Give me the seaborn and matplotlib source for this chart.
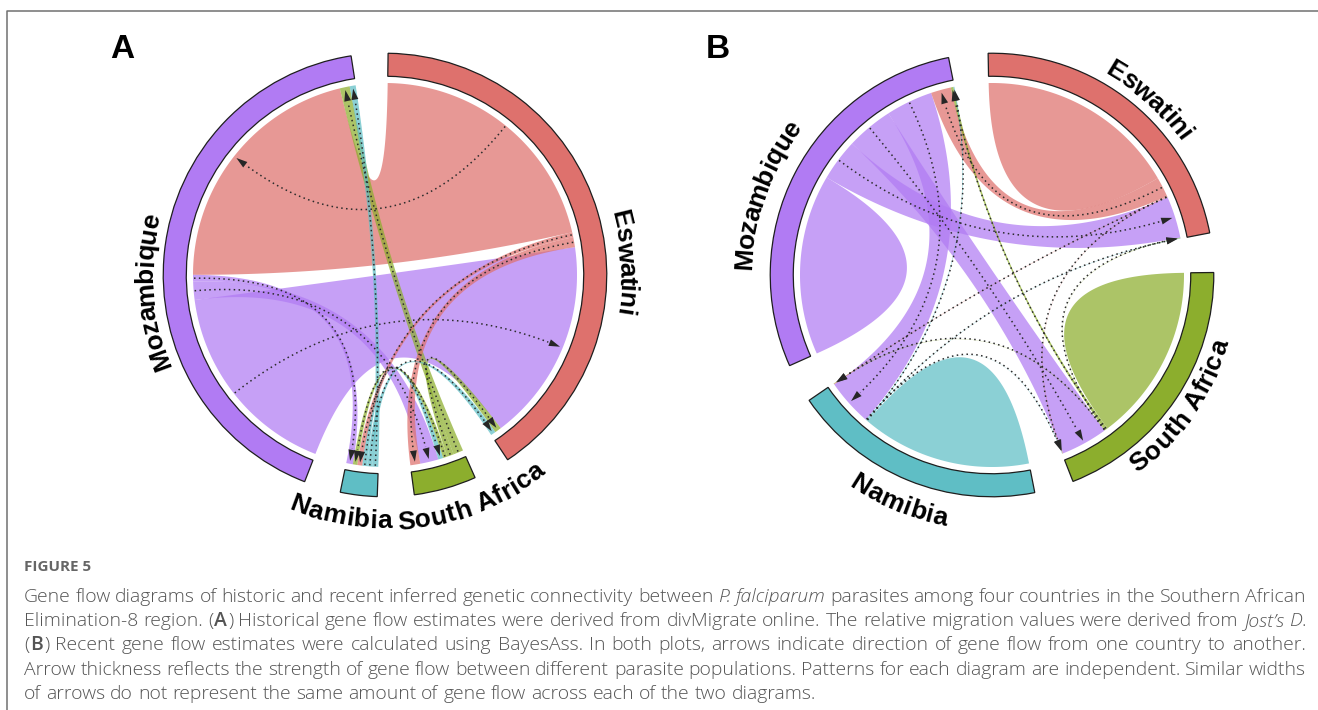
import re

import matplotlib.pyplot as plt
import numpy as np
import seaborn as sns
from matplotlib import font_manager
from matplotlib.font_manager import FontProperties
from matplotlib.patches import Polygon, Wedge

sns.set_theme(style='white')
plt.rcParams['font.family'] = ['Liberation Sans', 'DejaVu Sans']

W, H = 1318, 710
UNIT = 192                  # px for radius 1, where the links end
R_IN, R_OUT = 1.035, 1.155  # sector track

countries = ['Eswatini', 'South Africa', 'Namibia', 'Mozambique']  # clockwise from the top
ring_colours = ['#de716d', '#8cae2d', '#5fbec5', '#b17bf3']

# gene flow, rows = from, columns = to (order of `countries`)
# (A) divMigrate, relative migration from Jost's D
historic_flow = [
    [0.0, 3.0, 1.5, 76.0],
    [2.0, 0.0, 1.3, 3.0],
    [1.5, 1.5, 0.0, 1.8],
    [61.0, 5.5, 2.0, 0.0],
]
# (B) BayesAss
recent_flow = [
    [30.0, 0.15, 0.15, 6.0],
    [0.15, 26.5, 0.15, 0.8],
    [0.15, 0.15, 25.5, 0.3],
    [12.5, 14.0, 14.0, 27.0],
]

# order of the link ends inside each sector, clockwise: outgoing first, then incoming
historic_out = {
    'Eswatini': ['Mozambique', 'Namibia', 'South Africa'],
    'South Africa': ['Mozambique', 'Eswatini', 'Namibia'],
    'Namibia': ['Mozambique', 'Eswatini', 'South Africa'],
    'Mozambique': ['Eswatini', 'South Africa', 'Namibia'],
}
historic_in = {
    'Eswatini': ['Mozambique', 'South Africa', 'Namibia'],
    'South Africa': ['Namibia', 'Mozambique', 'Eswatini'],
    'Namibia': ['Eswatini', 'South Africa', 'Mozambique'],
    'Mozambique': ['Eswatini', 'South Africa', 'Namibia'],
}
recent_out = {
    'Eswatini': ['Eswatini', 'Mozambique', 'South Africa', 'Namibia'],
    'South Africa': ['South Africa', 'Mozambique', 'Eswatini', 'Namibia'],
    'Namibia': ['Namibia', 'Mozambique', 'Eswatini', 'South Africa'],
    'Mozambique': ['Mozambique', 'Eswatini', 'South Africa', 'Namibia'],
}
recent_in = {
    'Eswatini': ['Mozambique', 'South Africa', 'Namibia'],
    'South Africa': ['Mozambique', 'Eswatini', 'Namibia'],
    'Namibia': ['Mozambique', 'Eswatini', 'South Africa'],
    'Mozambique': ['Eswatini', 'South Africa', 'Namibia'],
}

caption_lines = [
    'Gene flow diagrams of historic and recent inferred genetic connectivity between *P.* *falciparum* '
    'parasites among four countries in the Southern African',
    'Elimination-8 region. (^A^) Historical gene flow estimates were derived from divMigrate online. '
    'The relative migration values were derived from *Jost\u2019s* *D*.',
    '(^B^) Recent gene flow estimates were calculated using BayesAss. In both plots, arrows indicate '
    'direction of gene flow from one country to another.',
    'Arrow thickness reflects the strength of gene flow between different parasite populations. '
    'Patterns for each diagram are independent. Similar widths',
    'of arrows do not represent the same amount of gene flow across each of the two diagrams.',
]

panels = [
    dict(letter='A', flow=historic_flow, out=historic_out, inc=historic_in,
         start=89.2, gap=9.6, cx=385, cy=275, letter_xy=(122, 50),
         labels={'Eswatini': (3, 1.27), 'South Africa': (-69, 1.28),
                 'Namibia': (-100.5, 1.27), 'Mozambique': (184, 1.26)}),
    dict(letter='B', flow=recent_flow, out=recent_out, inc=recent_in,
         start=91.0, gap=10.3, cx=992, cy=275, letter_xy=(718, 50),
         labels={'Eswatini': (48, 1.25), 'South Africa': (-34.8, 1.23),
                 'Namibia': (-112.4, 1.28), 'Mozambique': (160.5, 1.30)}),
]


def pol(theta, r=1.0):
    t = np.radians(theta)
    return np.array([r * np.cos(t), r * np.sin(t)])


def arc(t1, t2, r=1.0):
    n = max(int(abs(t2 - t1) * 2) + 2, 4)
    t = np.radians(np.linspace(t1, t2, n))
    return np.column_stack([r * np.cos(t), r * np.sin(t)])


def bez(p0, p2, n=90):
    # quadratic curve with its control point in the centre of the circle
    t = np.linspace(0, 1, n)[:, None]
    return (1 - t) ** 2 * p0 + t ** 2 * p2


def ribbon(src, dst):
    (s1, s2), (t1, t2) = src, dst
    return np.vstack([arc(s1, s2), bez(pol(s2), pol(t1)),
                      arc(t1, t2), bez(pol(t2), pol(s1))])


def layout(flow, out_order, in_order, start, gap):
    flow = np.asarray(flow)
    totals = flow.sum(axis=1) + flow.sum(axis=0)
    scale = (360 - len(countries) * gap) / totals.sum()
    sectors, ends_out, ends_in = [], {}, {}
    theta = start
    for i, name in enumerate(countries):
        first = theta
        for target in out_order[name]:
            j = countries.index(target)
            w = flow[i, j] * scale * (2 if i == j else 1)
            ends_out[(i, j)] = (theta, theta - w)
            theta -= w
        for source in in_order[name]:
            j = countries.index(source)
            w = flow[j, i] * scale
            ends_in[(j, i)] = (theta, theta - w)
            theta -= w
        sectors.append((first, theta))
        theta -= gap
    return sectors, ends_out, ends_in


def arrow(ax, src, dst):
    p0 = pol(np.mean(src), 0.995)
    p2 = pol(np.mean(dst), 0.985)
    curve = bez(p0, p2, 240)
    length, width = 0.058, 0.036
    idx = np.where(np.linalg.norm(curve - p2, axis=1) > length)[0][-1]
    line = curve[:idx + 1]
    sns.lineplot(x=line[:, 0], y=line[:, 1], sort=False, estimator=None, ax=ax,
                 color='#2b2b2b', lw=1.1, linestyle=(0, (1, 2.2)), zorder=3)
    d = p2 - curve[idx]
    d = d / np.linalg.norm(d)
    perp = np.array([-d[1], d[0]])
    base = p2 - d * length
    ax.add_patch(Polygon([p2, base + perp * width / 2, base - perp * width / 2],
                         closed=True, fc='#262626', ec='none', zorder=4))


def arc_text(ax, text, angle, radius, fp):
    widths = [renderer.get_text_width_height_descent(text[:k], fp, ismath=False)[0] if k else 0.0
              for k in range(len(text) + 1)]
    total = widths[-1]
    cap_h = 0.716 * fp.get_size_in_points() * 100 / 72 / UNIT
    flip = np.sin(np.radians(angle)) < -0.3
    for k, ch in enumerate(text):
        if ch == ' ':
            continue
        off = ((widths[k] + widths[k + 1]) / 2 - total / 2) / (radius * UNIT)
        if flip:
            theta = angle + np.degrees(off)
            rot, rb = theta + 90, radius + cap_h / 2
        else:
            theta = angle - np.degrees(off)
            rot, rb = theta - 90, radius - cap_h / 2
        x, y = pol(theta, rb)
        ax.text(x, y, ch, fontproperties=fp, rotation=rot, rotation_mode='anchor',
                ha='center', va='baseline', color='black', zorder=6)


fig = plt.figure(figsize=(W / 100, H / 100), dpi=100)
renderer = fig.canvas.get_renderer()

cap = fig.add_axes([0, 0, 1, 1])
cap.set_xlim(0, W)
cap.set_ylim(H, 0)
cap.axis('off')
cap.plot([7, 7, W], [H, 11, 11], color='#707070', lw=1.1)

label_fp = FontProperties(family=['Liberation Sans', 'DejaVu Sans'], weight='bold', size=19)

for p in panels:
    half = 1.45
    side = 2 * half * UNIT
    ax = fig.add_axes([(p['cx'] - half * UNIT) / W, (H - p['cy'] - half * UNIT) / H,
                       side / W, side / H])
    sectors, ends_out, ends_in = layout(p['flow'], p['out'], p['inc'], p['start'], p['gap'])
    n = len(countries)
    links = sorted(((p['flow'][i][j], i, j) for i in range(n) for j in range(n)
                    if p['flow'][i][j] > 0), reverse=True)
    for value, i, j in links:
        if i == j:
            s1, s2 = ends_out[(i, i)]
            src, dst = (s1, (s1 + s2) / 2), ((s1 + s2) / 2, s2)
        else:
            src, dst = ends_out[(i, j)], ends_in[(i, j)]
        ax.add_patch(Polygon(ribbon(src, dst), closed=True, fc=ring_colours[i],
                             alpha=0.72, ec='none', zorder=2))
    for value, i, j in links:
        if i != j:
            arrow(ax, ends_out[(i, j)], ends_in[(i, j)])
    for i, (a, b) in enumerate(sectors):
        ax.add_patch(Wedge((0, 0), R_OUT, b, a, width=R_OUT - R_IN, fc=ring_colours[i],
                           ec='#1e1e1e', lw=0.9, zorder=5))
    for name, (ang, rad) in p['labels'].items():
        arc_text(ax, name, ang, rad, label_fp)
    ax.set_xlim(-half, half)
    ax.set_ylim(-half, half)
    ax.axis('off')
    cap.text(*p['letter_xy'], p['letter'], fontsize=24, fontweight='bold', ha='center',
             va='center', color='black')


# caption, justified like the journal page; a light face if one is installed
installed = {(f.name, f.weight) for f in font_manager.fontManager.ttflist}
body_family, body_weight = 'Open Sans', 'normal'
for fam in ['Open Sans', 'Lato', 'Noto Sans', 'Roboto']:
    if any(name == fam and w in (300, 'light', 'Light') for name, w in installed):
        body_family, body_weight = fam, 300
        break


def caption_fonts(size):
    base = dict(family=[body_family, 'DejaVu Sans'], size=size)
    return {'normal': FontProperties(weight=body_weight, **base),
            'italic': FontProperties(style='italic', weight=body_weight, **base),
            'bold': FontProperties(weight='semibold', **base)}


def runs_of(word):
    runs = []
    for piece in re.split(r'(\*[^*]+\*|\^[^^]+\^)', word):
        if not piece:
            continue
        if piece.startswith('*'):
            runs.append((piece[1:-1], 'italic'))
        elif piece.startswith('^'):
            runs.append((piece[1:-1], 'bold'))
        else:
            runs.append((piece, 'normal'))
    return runs


def width_of(s, fp):
    return renderer.get_text_width_height_descent(s, fp, ismath=False)[0]


x0, x1 = 24, 1306
f10 = caption_fonts(10)
size = 10 * (814 - x0) / width_of(caption_lines[-1], f10['normal'])
fonts = caption_fonts(size)
space = width_of('a a', fonts['normal']) - width_of('aa', fonts['normal'])

cap.text(x0, 571, 'FIGURE 5', color='#666666', va='baseline', ha='left',
         fontproperties=FontProperties(family=['Open Sans', 'DejaVu Sans'],
                                       weight='bold', size=11))

for k, line in enumerate(caption_lines):
    words = [runs_of(w) for w in line.split(' ')]
    widths = [sum(width_of(t, fonts[s]) + 1.0 * (t.endswith('(') or s == 'bold')
                  for t, s in runs) for runs in words]
    y = 602 + k * 24.2
    if k == len(caption_lines) - 1:
        gap = space
    else:
        gap = (x1 - x0 - sum(widths)) / (len(words) - 1)
    x = x0
    for runs, w in zip(words, widths):
        xx = x
        for t, s in runs:
            cap.text(xx, y, t, fontproperties=fonts[s], color='#555555',
                     va='baseline', ha='left')
            xx += width_of(t, fonts[s]) + 1.0 * (t.endswith('(') or s == 'bold')
        x += w + gap

fig.savefig('out.png', dpi=100, facecolor='white')
